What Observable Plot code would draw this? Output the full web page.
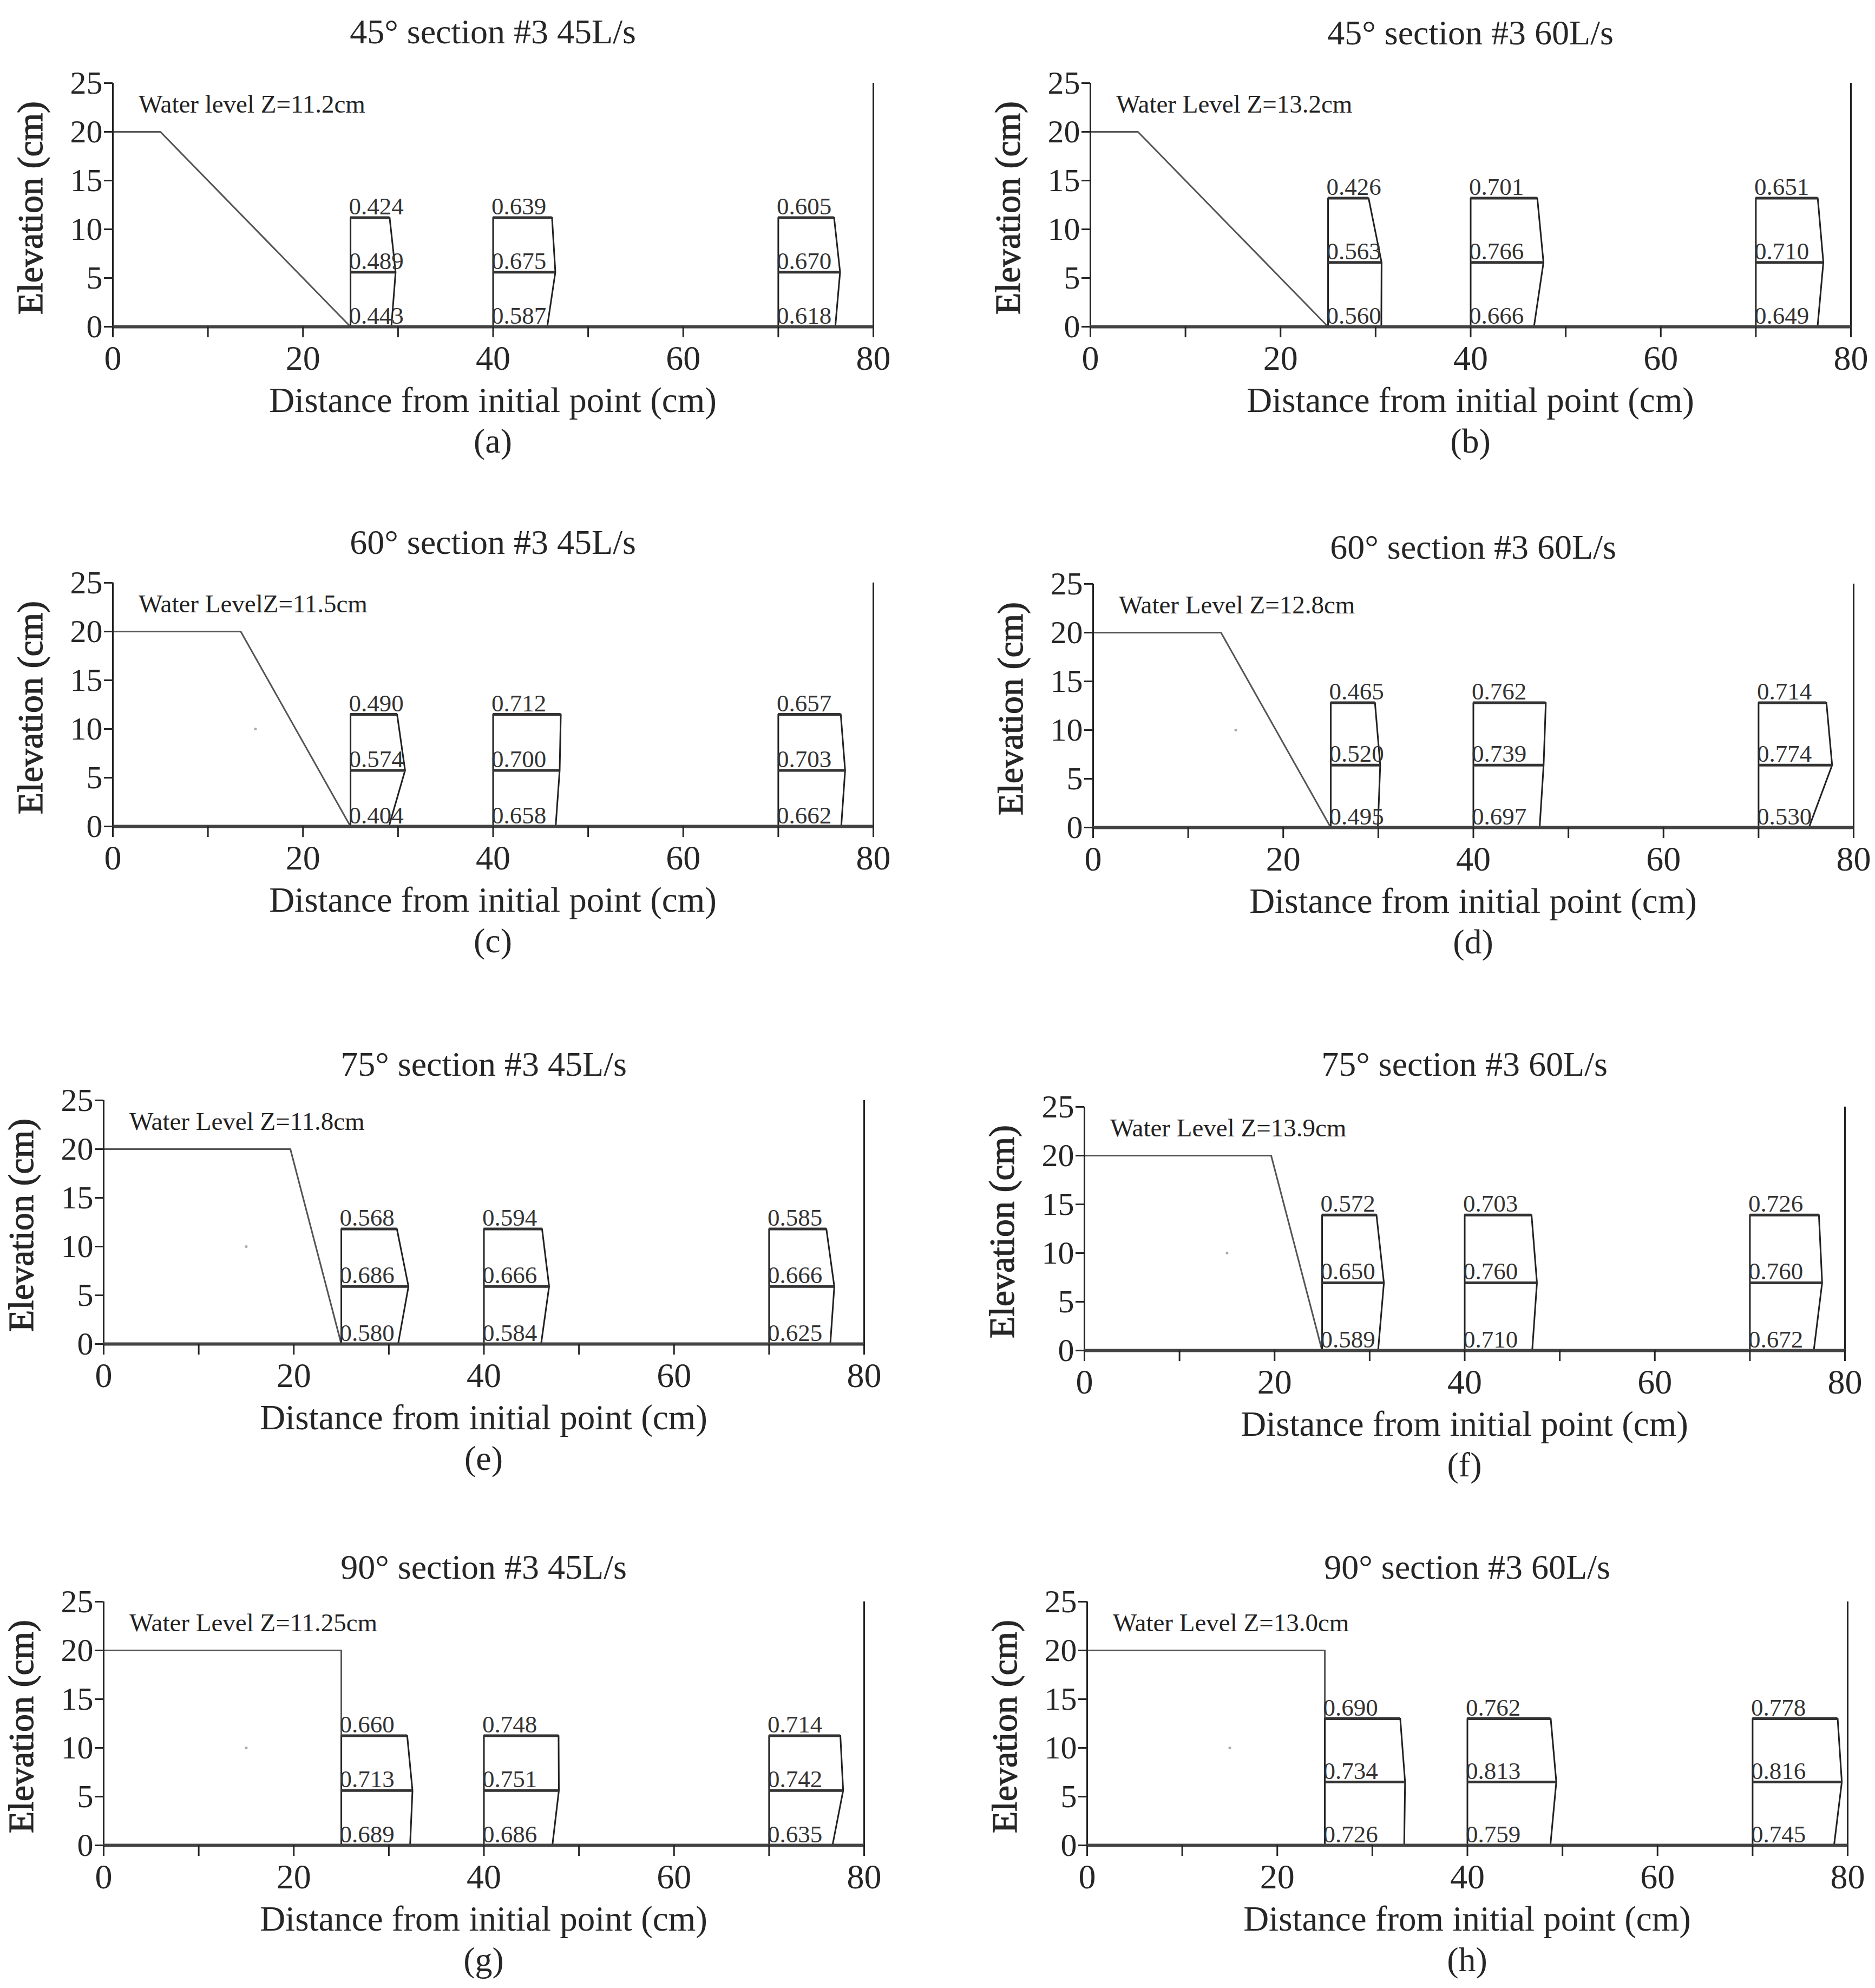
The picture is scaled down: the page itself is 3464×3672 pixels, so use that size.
<!DOCTYPE html>
<html>
<head>
<meta charset="utf-8">
<script src="https://cdn.jsdelivr.net/npm/d3@7"></script>
<script src="https://cdn.jsdelivr.net/npm/@observablehq/plot@0.6"></script>
<style>
  body { margin: 0; background: #fff; }
  #page { position: relative; width: 3464px; height: 3672px; background: #fff; font-family: "Liberation Serif", "Times New Roman", serif; color: #262626; }
  .lbl { position: absolute; white-space: nowrap; transform: translate(-50%, -50%); line-height: 1; }
  .ttl { font-size: 64px; }
  .xl { font-size: 65px; }
  .cap { font-size: 64px; }
  .yl { font-size: 66px; -webkit-text-stroke: 1.2px #262626; transform: translate(-50%, -50%) rotate(-90deg); }
  .chart { position: absolute; }
</style>
</head>
<body>
<div id="page"></div>
<script>
// panels, in reading order
const panelLetters = ["a", "b", "c", "d", "e", "f", "g", "h"];
const angles = [45, 45, 60, 60, 75, 75, 90, 90];
const flowRates = [45, 60, 45, 60, 45, 60, 45, 60];
const waterLevels = [11.2, 13.2, 11.5, 12.8, 11.8, 13.9, 11.25, 13.0];
const waterLabels = [
  "Water level Z=11.2cm", "Water Level Z=13.2cm",
  "Water LevelZ=11.5cm", "Water Level Z=12.8cm",
  "Water Level Z=11.8cm", "Water Level Z=13.9cm",
  "Water Level Z=11.25cm", "Water Level Z=13.0cm"
];

// measuring sections (cm) and velocities at top / middle / bottom
const sectionX = [25, 40, 70];
const velTop = [
  [0.424, 0.639, 0.605], [0.426, 0.701, 0.651],
  [0.490, 0.712, 0.657], [0.465, 0.762, 0.714],
  [0.568, 0.594, 0.585], [0.572, 0.703, 0.726],
  [0.660, 0.748, 0.714], [0.690, 0.762, 0.778]
];
const velMid = [
  [0.489, 0.675, 0.670], [0.563, 0.766, 0.710],
  [0.574, 0.700, 0.703], [0.520, 0.739, 0.774],
  [0.686, 0.666, 0.666], [0.650, 0.760, 0.760],
  [0.713, 0.751, 0.742], [0.734, 0.813, 0.816]
];
const velBot = [
  [0.443, 0.587, 0.618], [0.560, 0.666, 0.649],
  [0.404, 0.658, 0.662], [0.495, 0.697, 0.530],
  [0.580, 0.584, 0.625], [0.589, 0.710, 0.672],
  [0.689, 0.686, 0.635], [0.726, 0.759, 0.745]
];
// how wide the profile is drawn per m/s, in cm
const profileScale = [9.7, 10, 10, 10, 10.3, 10, 10.5, 11.5];

// weir: crest 20 cm high, toe at 25 cm
const crestHeight = 20;
const toeX = 25;

const xTicks = [0, 10, 20, 30, 40, 50, 60, 70, 80];
const yTicks = [0, 5, 10, 15, 20, 25];

// layout (pixels): top-left corner of each plot area
const plotLeft = [208, 2014, 208, 2019, 191, 2003, 191, 2008];
const plotTop = [153, 153, 1076, 1078, 2032, 2044, 2958, 2958];
const titleDy = [-94, -92, -74, -67, -66, -78, -63, -63];
const PW = 1405, PH = 450;
const ML = 130, MR = 40, MT = 30, MB = 110;

const fmt = d3.format(".3f");
const page = document.getElementById("page");

function addLabel(text, cls, x, y) {
  const div = document.createElement("div");
  div.className = "lbl " + cls;
  div.textContent = text;
  div.style.left = x + "px";
  div.style.top = y + "px";
  page.appendChild(div);
}

panelLetters.forEach((letter, i) => {
  const wl = waterLevels[i];
  const k = profileScale[i];
  const crestEnd = toeX - crestHeight / Math.tan(angles[i] * Math.PI / 180);

  const sections = sectionX.map((x0, j) => ({
    x0, top: velTop[i][j], mid: velMid[i][j], bot: velBot[i][j]
  }));
  const profile = sections.flatMap(s => [
    {s: s.x0, x: s.x0, y: 0},
    {s: s.x0, x: s.x0, y: wl},
    {s: s.x0, x: s.x0 + s.top * k, y: wl},
    {s: s.x0, x: s.x0 + s.mid * k, y: wl / 2},
    {s: s.x0, x: s.x0 + s.bot * k, y: 0}
  ]);
  const labels = sections.flatMap(s => [
    {x: s.x0, y: wl, v: s.top},
    {x: s.x0, y: wl / 2, v: s.mid},
    {x: s.x0, y: 0, v: s.bot}
  ]);
  const weir = [
    {x: 0, y: crestHeight},
    {x: crestEnd, y: crestHeight},
    {x: toeX, y: 0}
  ];

  const chart = Plot.plot({
    width: ML + PW + MR,
    height: MT + PH + MB,
    marginLeft: ML, marginRight: MR, marginTop: MT, marginBottom: MB,
    x: {domain: [0, 80]},
    y: {domain: [0, 25]},
    style: {
      fontFamily: "Liberation Serif, serif",
      fontSize: "62px",
      color: "#262626",
      background: "transparent",
      overflow: "visible"
    },
    marks: [
      Plot.line(weir, {x: "x", y: "y", stroke: "#555", strokeWidth: 3}),
      i >= 2 ? Plot.dot([15], {x: d => d, y: () => 10, r: 2.5, fill: "#aaa", stroke: null}) : null,
      Plot.line(profile, {x: "x", y: "y", z: "s", stroke: "#222", strokeWidth: 3}),
      Plot.ruleY(sections, {y: () => wl, x1: "x0", x2: s => s.x0 + s.top * k, stroke: "#333", strokeWidth: 5}),
      Plot.ruleY(sections, {y: () => wl / 2, x1: "x0", x2: s => s.x0 + s.mid * k, stroke: "#333", strokeWidth: 5}),
      Plot.text(labels, {
        x: "x", y: "y", text: d => fmt(d.v),
        textAnchor: "start", lineAnchor: "bottom", dx: -3, dy: -6,
        fontSize: 45, fill: "#333"
      }),
      Plot.text([waterLabels[i]], {
        x: () => 2.7, y: () => 22.8, text: d => d,
        textAnchor: "start", fontSize: 47, fill: "#222"
      }),
      Plot.ruleX([0, 80], {y1: () => 0, y2: () => 25, stroke: "#222", strokeWidth: 3}),
      Plot.ruleY([0], {x1: () => 0, x2: () => 80, stroke: "#444", strokeWidth: 6}),
      Plot.axisX({
        ticks: xTicks, tickSize: 20, tickPadding: 14, strokeWidth: 3,
        tickFormat: d => (d % 20 === 0 ? d : ""), label: null, fontSize: 64
      }),
      Plot.axisY({
        ticks: yTicks, tickSize: 16, tickPadding: 3, strokeWidth: 3,
        label: null, fontSize: 60
      })
    ]
  });

  chart.classList.add("chart");
  chart.style.left = (plotLeft[i] - ML) + "px";
  chart.style.top = (plotTop[i] - MT) + "px";
  page.appendChild(chart);

  const cx = plotLeft[i] + PW / 2;
  const y0 = plotTop[i] + PH;
  addLabel(`${angles[i]}° section #3 ${flowRates[i]}L/s`, "ttl", cx, plotTop[i] + titleDy[i]);
  addLabel("Distance from initial point (cm)", "xl", cx, y0 + 136);
  addLabel(`(${letter})`, "cap", cx, y0 + 212);
  addLabel("Elevation (cm)", "yl", plotLeft[i] - 152, plotTop[i] + PH / 2 + 6);
});
</script>
</body>
</html>
